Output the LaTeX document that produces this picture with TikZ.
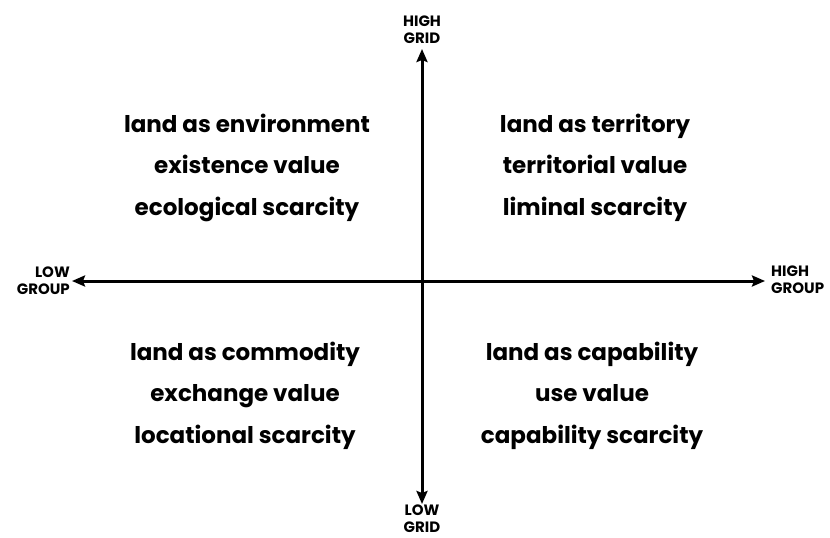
\documentclass[tikz,border=0pt]{standalone}
\usepackage{fontspec}
\setmainfont{Poppins}
\usepackage{tikz}
\usetikzlibrary{positioning,arrows.meta}

\begin{document}
\begin{tikzpicture}[x=1pt,y=-1pt]

\tikzstyle{every node}=[font=\bfseries\fontsize{23}{26}\selectfont]
\tikzstyle{line}=[text centered, inner sep=0, text height=17pt, text depth=6pt]
\tikzstyle{axislabel}=[font=\bfseries\fontsize{15}{17}\selectfont, inner sep=0]
\tikzstyle{axis}=[line width=3, -{Stealth[length=13pt,width=11pt,inset=2pt]}]

\useasboundingbox (0,0) rectangle (830,538);

% axis ends %
\coordinate (c) at (422,281);
\coordinate (n) at (422,49);
\coordinate (s) at (422,504);
\coordinate (w) at (72,281);
\coordinate (e) at (765,281);

% axis labels %
\node[axislabel, align=center, above=5pt of n] (hg) {HIGH\\GRID};
\node[axislabel, align=center, below=1pt of s] (lg) {LOW\\GRID};
\node[axislabel, align=right, left=2pt of w] (lgr) {LOW\\GROUP};
\node[axislabel, align=left, right=6pt of e, yshift=1pt] (hgr) {HIGH\\GROUP};

% upper left %
\node[line] (env) at (247,127) {land as environment};
\node[line, below=18pt of env] (exist) {existence value};
\node[line, below=18pt of exist] (eco) {ecological scarcity};

% upper right %
\node[line] (terr) at (595,127) {land as territory};
\node[line, below=18pt of terr] (tval) {territorial value};
\node[line, below=18pt of tval] (lim) {liminal scarcity};

% lower left %
\node[line] (comm) at (245,355) {land as commodity};
\node[line, below=18pt of comm] (exch) {exchange value};
\node[line, below=18pt of exch] (loc) {locational scarcity};

% lower right %
\node[line] (capa) at (592,355) {land as capability};
\node[line, below=18pt of capa] (use) {use value};
\node[line, below=18pt of use] (cscar) {capability scarcity};

% edges %
\draw[axis] (c) -- (n);
\draw[axis] (c) -- (s);
\draw[axis] (c) -- (w);
\draw[axis] (c) -- (e);

\end{tikzpicture}
\end{document}
